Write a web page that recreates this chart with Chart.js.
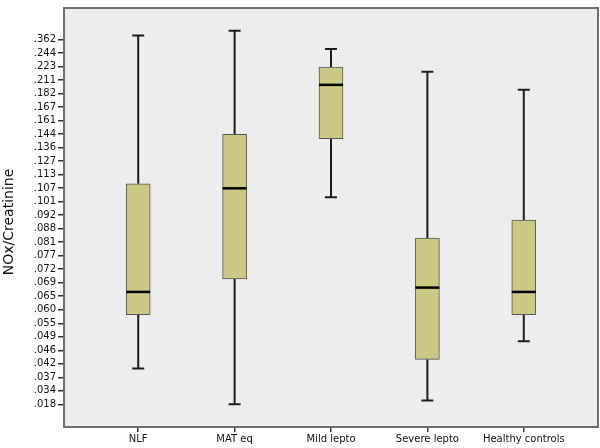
<!DOCTYPE html>
<html>
<head>
<meta charset="utf-8">
<script src="https://cdn.jsdelivr.net/npm/chart.js@4"></script>
<style>
html,body{margin:0;padding:0;background:#fff;}
#wrap{width:600px;height:448px;}
</style>
</head>
<body>
<div id="wrap"><canvas id="c" width="600" height="448"></canvas></div>
<script>
// Categories and ordinal y tick labels (bottom to top)
const categories = ['NLF', 'MAT eq', 'Mild lepto', 'Severe lepto', 'Healthy controls'];
const yTickLabels = ['.018', '.034', '.037', '.042', '.046', '.049', '.055', '.060', '.065', '.069',
  '.072', '.077', '.081', '.088', '.092', '.101', '.107', '.113', '.127', '.136',
  '.144', '.161', '.167', '.182', '.211', '.223', '.244', '.362'];
const yTitle = 'NOx/Creatinine';
// Box statistics, in positions on the ordinal y axis (0 = .018 ... 27 = .362)
const whiskerLow  = [2.65, 0.00, 15.33, 0.29, 4.67];
const q1          = [6.64, 9.29, 19.66, 3.33, 6.64];
const median      = [8.32, 15.99, 23.65, 8.64, 8.32];
const q3          = [16.33, 19.98, 24.96, 12.31, 13.63];
const whiskerHigh = [27.30, 27.66, 26.30, 24.62, 23.28];

const boxPlugin = {
  id: 'boxExtras',
  beforeDraw(chart) {
    const {ctx, chartArea: a} = chart;
    ctx.save();
    ctx.fillStyle = '#ededed';
    ctx.fillRect(a.left, a.top, a.right - a.left, a.bottom - a.top);
    ctx.restore();
  },
  beforeDatasetsDraw(chart) {
    const {ctx, scales} = chart;
    const xs = scales.x, ys = scales.y;
    ctx.save();
    ctx.strokeStyle = '#1c1c1c';
    ctx.lineWidth = 2;
    categories.forEach((c, i) => {
      const x = xs.getPixelForValue(i);
      const yHi = ys.getPixelForValue(whiskerHigh[i]);
      const yLo = ys.getPixelForValue(whiskerLow[i]);
      const yQ1 = ys.getPixelForValue(q1[i]);
      const yQ3 = ys.getPixelForValue(q3[i]);
      ctx.beginPath();
      ctx.moveTo(x, yHi); ctx.lineTo(x, yQ3);
      ctx.moveTo(x, yQ1); ctx.lineTo(x, yLo);
      ctx.moveTo(x - 6, yHi); ctx.lineTo(x + 6, yHi);
      ctx.moveTo(x - 6, yLo); ctx.lineTo(x + 6, yLo);
      ctx.stroke();
    });
    ctx.restore();
  },
  afterDatasetsDraw(chart) {
    const {ctx, scales, chartArea: a} = chart;
    const xs = scales.x, ys = scales.y;
    ctx.save();
    ctx.strokeStyle = '#000';
    ctx.lineWidth = 2.5;
    categories.forEach((c, i) => {
      const x = xs.getPixelForValue(i);
      const y = ys.getPixelForValue(median[i]);
      ctx.beginPath();
      ctx.moveTo(x - 12, y); ctx.lineTo(x + 12, y);
      ctx.stroke();
    });
    ctx.strokeStyle = '#6e6e6e';
    ctx.lineWidth = 2;
    ctx.strokeRect(a.left, a.top, a.right - a.left, a.bottom - a.top);
    // y axis title
    ctx.translate(9, 222);
    ctx.rotate(-Math.PI / 2);
    ctx.fillStyle = '#111';
    ctx.font = '14px "DejaVu Sans"';
    ctx.textAlign = 'center';
    ctx.textBaseline = 'middle';
    ctx.fillText(yTitle, 0, 0);
    ctx.restore();
  }
};

new Chart(document.getElementById('c'), {
  type: 'bar',
  data: {
    datasets: [{
      data: categories.map((c, i) => ({x: i, y: [q1[i], q3[i]]})),
      backgroundColor: '#cbc983',
      borderColor: '#555555',
      borderWidth: 1,
      borderSkipped: false,
      barThickness: 24
    }]
  },
  options: {
    responsive: false,
    animation: false,
    layout: {padding: {top: 2, right: 2, left: 0, bottom: 0}},
    plugins: {legend: {display: false}, tooltip: {enabled: false}},
    scales: {
      x: {
        type: 'linear',
        offset: false,
        min: -0.77,
        max: 4.77,
        afterBuildTicks: (s) => { s.ticks = categories.map((c, i) => ({value: i})); },
        afterFit: (s) => { s.height = 21; },
        grid: {offset: false, drawOnChartArea: false, drawTicks: true, tickLength: 5, tickColor: '#333', lineWidth: 1.5},
        border: {display: false},
        ticks: {
          callback: (v) => categories[v],
          font: {family: 'DejaVu Sans', size: 10},
          color: '#111',
          padding: 1,
          maxRotation: 0,
          autoSkip: false
        }
      },
      y: {
        type: 'linear',
        min: -1.68,
        max: 29.34,
        afterBuildTicks: (s) => { s.ticks = yTickLabels.map((t, i) => ({value: i})); },
        afterFit: (s) => { s.width = 64; },
        grid: {drawOnChartArea: false, drawTicks: true, tickLength: 6, tickColor: '#333', lineWidth: 1.5},
        border: {display: false},
        ticks: {
          callback: (v) => yTickLabels[v],
          font: {family: 'DejaVu Sans', size: 10},
          color: '#111',
          padding: 2,
          autoSkip: false
        },
        title: {display: false}
      }
    }
  },
  plugins: [boxPlugin]
});
</script>
</body>
</html>
